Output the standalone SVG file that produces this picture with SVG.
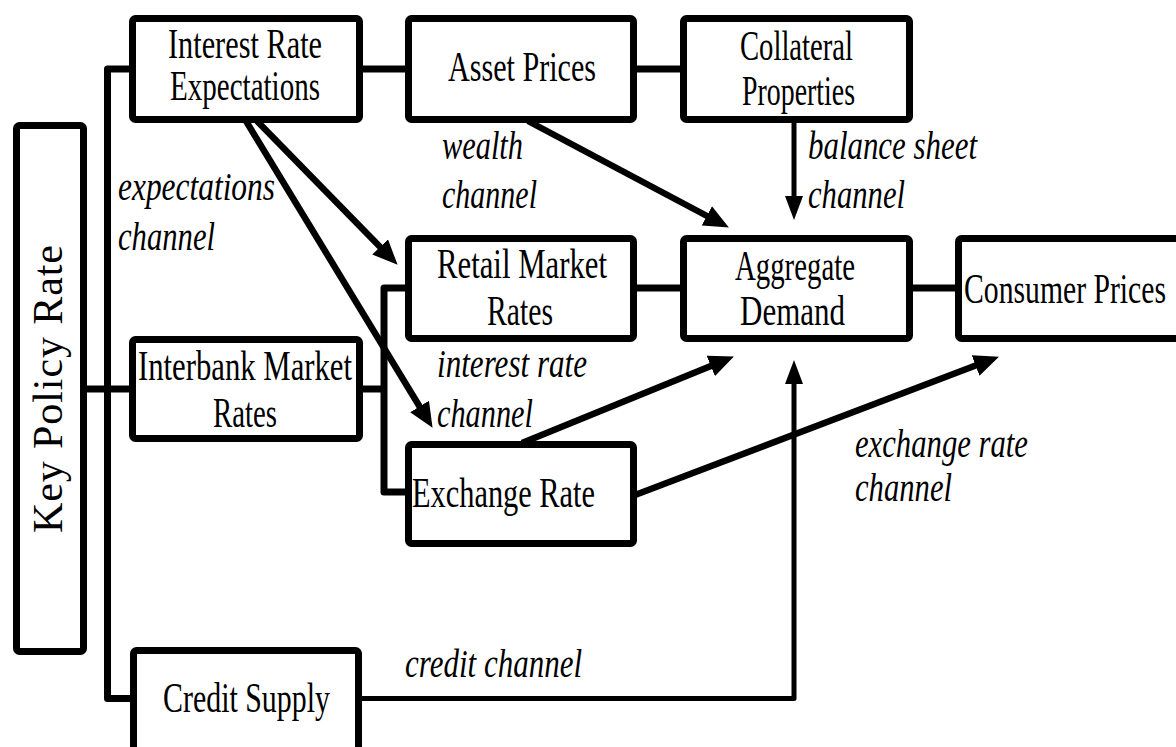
<svg xmlns="http://www.w3.org/2000/svg" width="1176" height="747" viewBox="0 0 1176 747">
<style>
.box{fill:#fff;stroke:#000;stroke-width:7;stroke-linejoin:round}
.n{font-family:"Liberation Serif","Times New Roman",serif;font-size:42px;fill:#000}
.l{font-family:"Liberation Serif","Times New Roman",serif;font-size:40px;font-style:italic;fill:#000}
.c{fill:none;stroke:#000;stroke-width:7;stroke-linejoin:round;stroke-linecap:butt}
.a{fill:none;stroke:#000;stroke-width:6.5}
.t{fill:none;stroke:#000;stroke-width:5;stroke-linejoin:round}
</style>
<defs>
<marker id="ah" markerUnits="userSpaceOnUse" markerWidth="26" markerHeight="22" refX="12" refY="11" orient="auto">
<path d="M0,0 L25,11 L0,22 z" fill="#000"/>
</marker>
<marker id="ahs" markerUnits="userSpaceOnUse" markerWidth="24" markerHeight="18" refX="12" refY="9" orient="auto">
<path d="M0,0 L24,9 L0,18 z" fill="#000"/>
</marker>
</defs>
<rect width="1176" height="747" fill="#fff"/>
<g id="connectors">
<path class="c" d="M132,69 H107.5 V698.5 H133"/>
<path class="c" d="M84,389 H133"/>
<path class="c" d="M359,389 H384"/>
<path class="c" d="M409,288 H384 V492 H409"/>
<path class="c" d="M359,69 H409"/>
<path class="c" d="M634,69 H684"/>
<path class="c" d="M634,288 H684"/>
<path class="c" d="M909,288 H959"/>
<path class="a" d="M528,121 L717.4,221.5" marker-end="url(#ah)"/>
<path class="t" d="M794,122 V208" marker-end="url(#ahs)"/>
<path class="a" d="M257,121 L388.5,255.5" marker-end="url(#ah)"/>
<path class="a" d="M246,121 L425.8,416.7" marker-end="url(#ah)"/>
<path class="a" d="M522,443 L721.9,361.4" marker-end="url(#ah)"/>
<path class="a" d="M635,495 L986.8,361.3" marker-end="url(#ah)"/>
<path class="t" d="M359,698.5 H794 V372" marker-end="url(#ahs)"/>
</g>
<g id="key-policy-rate">
<rect class="box" x="16.5" y="125.5" width="67" height="526" rx="3"/>
<text class="n" font-size="36" transform="translate(62,533) rotate(-90)" textLength="288" lengthAdjust="spacing">Key Policy Rate</text>
</g>
<g id="interest-rate-expectations">
<rect class="box" x="132.5" y="18.5" width="227" height="101" rx="3"/>
<text class="n" x="168" y="58" textLength="154" lengthAdjust="spacingAndGlyphs">Interest Rate</text>
<text class="n" x="170" y="100" textLength="150" lengthAdjust="spacingAndGlyphs">Expectations</text>
</g>
<g id="asset-prices">
<rect class="box" x="408.5" y="18.5" width="225" height="101" rx="3"/>
<text class="n" x="448" y="81" textLength="148" lengthAdjust="spacingAndGlyphs">Asset Prices</text>
</g>
<g id="collateral-properties">
<rect class="box" x="683.5" y="18.5" width="226" height="101" rx="3"/>
<text class="n" x="740" y="60" textLength="113" lengthAdjust="spacingAndGlyphs">Collateral</text>
<text class="n" x="742" y="105" textLength="113" lengthAdjust="spacingAndGlyphs">Properties</text>
</g>
<g id="retail-market-rates">
<rect class="box" x="408.5" y="238.5" width="225" height="100" rx="3"/>
<text class="n" x="437" y="278" textLength="170" lengthAdjust="spacingAndGlyphs">Retail Market</text>
<text class="n" x="487" y="325" textLength="66" lengthAdjust="spacingAndGlyphs">Rates</text>
</g>
<g id="aggregate-demand">
<rect class="box" x="683.5" y="238.5" width="226" height="100" rx="3"/>
<text class="n" x="735" y="280" textLength="120" lengthAdjust="spacingAndGlyphs">Aggregate</text>
<text class="n" x="740" y="325" textLength="105" lengthAdjust="spacingAndGlyphs">Demand</text>
</g>
<g id="consumer-prices">
<rect class="box" x="958.5" y="238.5" width="250" height="100" rx="3"/>
<text class="n" x="964" y="303" textLength="202" lengthAdjust="spacingAndGlyphs">Consumer Prices</text>
</g>
<g id="interbank-market-rates">
<rect class="box" x="132.5" y="339.5" width="227" height="99" rx="3"/>
<text class="n" x="138" y="380" textLength="214" lengthAdjust="spacingAndGlyphs">Interbank Market</text>
<text class="n" x="213" y="427" textLength="64" lengthAdjust="spacingAndGlyphs">Rates</text>
</g>
<g id="exchange-rate">
<rect class="box" x="408.5" y="444.5" width="225" height="99" rx="3"/>
<text class="n" x="412" y="507" textLength="183" lengthAdjust="spacingAndGlyphs">Exchange Rate</text>
</g>
<g id="credit-supply">
<rect class="box" x="133.5" y="650.5" width="225" height="120" rx="3"/>
<text class="n" x="163" y="712" textLength="167" lengthAdjust="spacingAndGlyphs">Credit Supply</text>
</g>
<g id="labels">
<text class="l" x="118" y="200" textLength="157" lengthAdjust="spacingAndGlyphs">expectations</text>
<text class="l" x="118" y="250" textLength="97" lengthAdjust="spacingAndGlyphs">channel</text>
<text class="l" x="442" y="159" textLength="81" lengthAdjust="spacingAndGlyphs">wealth</text>
<text class="l" x="442" y="208" textLength="95" lengthAdjust="spacingAndGlyphs">channel</text>
<text class="l" x="808" y="159" textLength="169" lengthAdjust="spacingAndGlyphs">balance sheet</text>
<text class="l" x="808" y="208" textLength="97" lengthAdjust="spacingAndGlyphs">channel</text>
<text class="l" x="437" y="377" textLength="150" lengthAdjust="spacingAndGlyphs">interest rate</text>
<text class="l" x="437" y="427" textLength="96" lengthAdjust="spacingAndGlyphs">channel</text>
<text class="l" x="855" y="457" textLength="173" lengthAdjust="spacingAndGlyphs">exchange rate</text>
<text class="l" x="855" y="501" textLength="97" lengthAdjust="spacingAndGlyphs">channel</text>
<text class="l" x="405" y="677" textLength="177" lengthAdjust="spacingAndGlyphs">credit channel</text>
</g>
</svg>
